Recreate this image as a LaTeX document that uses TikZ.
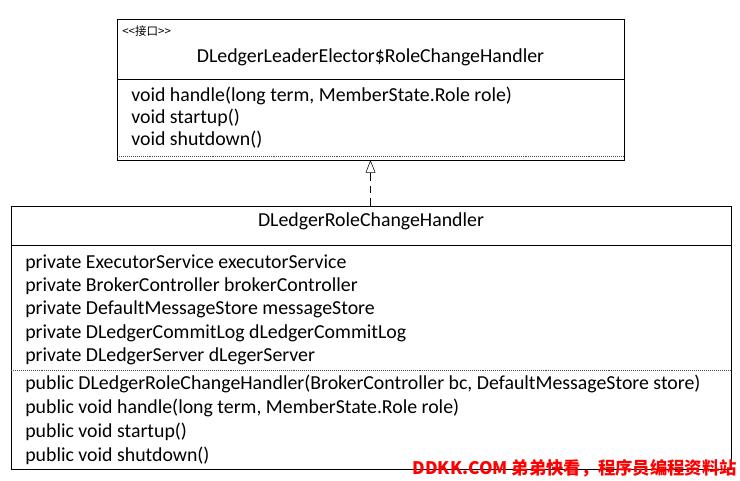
\documentclass[tikz,border=0pt]{standalone}
\usepackage{fontspec}
\setmainfont{Carlito}
\newfontfamily\cjk{Noto Sans CJK SC}
\usetikzlibrary{arrows.meta}

\begin{document}
\begin{tikzpicture}[x=0.025cm,y=-0.025cm,font=\fontsize{14.1}{16}\selectfont]
	\useasboundingbox (0,0) rectangle (740,480);
	% interface
	\draw [black, thin] (117,19) rectangle (624,160);
	\draw [black, thin] (117,79) -- (624,79);
	\draw [black!70, densely dotted] (117,156) -- (624,156);
	\node[anchor=west,inner sep=0] (stereo) at (122,31){\cjk\fontsize{8.2}{9}\selectfont <\kern0pt<接口>\kern0pt>};
	\node (iname) at (370.5,57){DLedgerLeaderElector\$RoleChangeHandler};
	\node[anchor=west,inner sep=0] (im1) at (131,96){void handle(long term, MemberState.Role role)};
	\node[anchor=west,inner sep=0] (im2) at (131,118){void startup()};
	\node[anchor=west,inner sep=0] (im3) at (131,140){void shutdown()};

	% class
	\draw [black, thin] (11,206) rectangle (731,469);
	\draw [black, thin] (11,245) -- (731,245);
	\draw [black!70, densely dotted] (11,370) -- (731,370);
	\node (cname) at (371,221){DLedgerRoleChangeHandler};
	% fields
	\node[anchor=west,inner sep=0] (f1) at (25,263){private ExecutorService executorService};
	\node[anchor=west,inner sep=0] (f2) at (25,286){private BrokerController brokerController};
	\node[anchor=west,inner sep=0] (f3) at (25,309.5){private DefaultMessageStore messageStore};
	\node[anchor=west,inner sep=0] (f4) at (25,333){private DLedgerCommitLog dLedgerCommitLog};
	\node[anchor=west,inner sep=0] (f5) at (25,356){private DLedgerServer dLegerServer};
	% methods
	\node[anchor=west,inner sep=0] (m1) at (25,384){public DLedgerRoleChangeHandler(BrokerController bc, DefaultMessageStore store)};
	\node[anchor=west,inner sep=0] (m2) at (25,408){public void handle(long term, MemberState.Role role)};
	\node[anchor=west,inner sep=0] (m3) at (25,432){public void startup()};
	\node[anchor=west,inner sep=0] (m4) at (25,456){public void shutdown()};

	% realization
	\coordinate (ifaceS) at (370.5,160);
	\coordinate (implN) at (370.5,206);
	\draw [black, thin, dash pattern=on 5.5pt off 3.5pt, -{Triangle[open,length=9pt,width=7pt]}] (implN) -- (ifaceS);

	% watermark
	\node[anchor=east,inner sep=0] (mark) at (737,468){\cjk\bfseries\fontsize{12.3}{13}\selectfont\color{red} DDKK.COM 弟弟快看，程序员编程资料站};
\end{tikzpicture}
\end{document}
